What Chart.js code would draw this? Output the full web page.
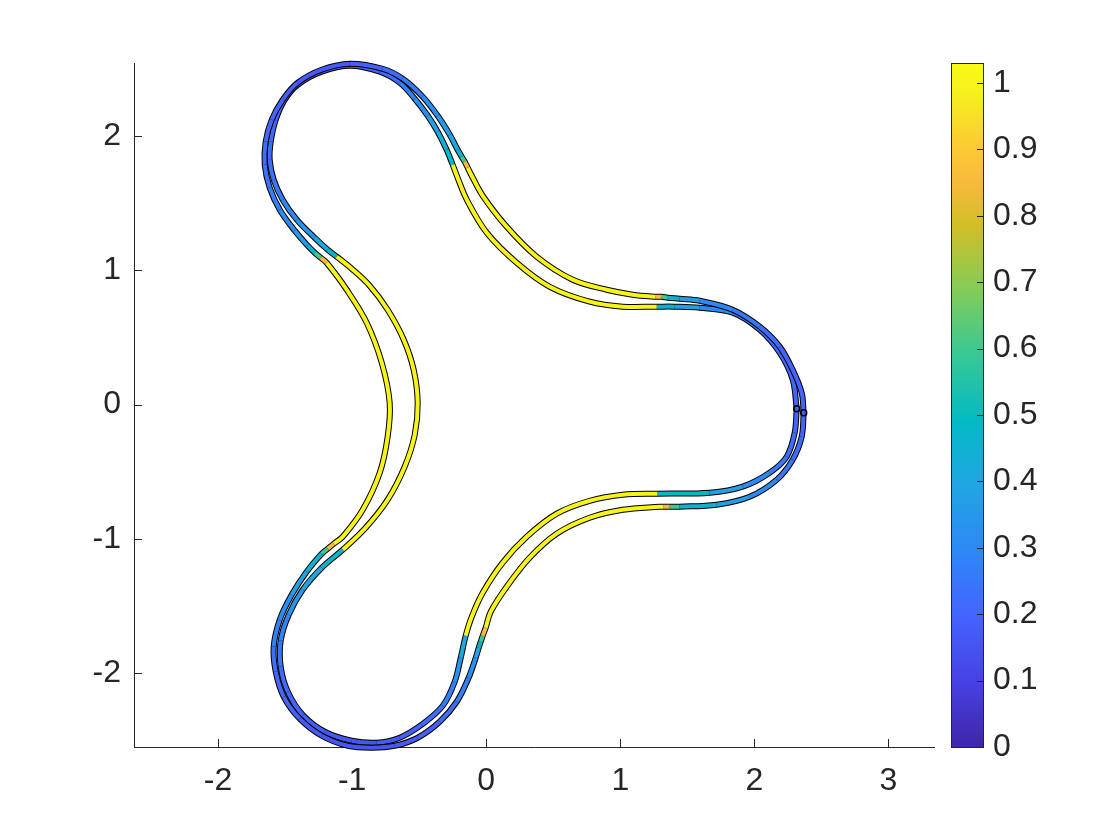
<!DOCTYPE html>
<html>
<head>
<meta charset="utf-8">
<script src="https://cdn.jsdelivr.net/npm/chart.js@4.4.1/dist/chart.umd.min.js"></script>
<style>
  html, body { margin: 0; padding: 0; background: #fff; }
  canvas { display: block; }
</style>
</head>
<body>
<canvas id="c" width="1120" height="840"></canvas>
<script>
// inner ribbon (starts at the marker on the right lobe)
const innerX = [2.316, 2.286, 2.189, 2.040, 1.838, 1.592, 1.406, 1.272, 1.018, 0.772,
  0.474, 0.227, 0.004, -0.145, -0.213, -0.250, -0.295, -0.362, -0.436, -0.533,
  -0.645, -0.794, -1.018, -1.227, -1.406, -1.503, -1.570, -1.607, -1.615, -1.585,
  -1.518, -1.413, -1.279, -1.182, -1.115, -1.003, -0.869, -0.735, -0.615, -0.541,
  -0.511, -0.533, -0.608, -0.735, -0.899, -1.070, -1.227, -1.369, -1.473, -1.533,
  -1.533, -1.480, -1.369, -1.204, -1.003, -0.817, -0.645, -0.481, -0.324, -0.235,
  -0.190, -0.153, -0.108, -0.026, 0.123, 0.302, 0.526, 0.772, 1.018, 1.279,
  1.667, 1.913, 2.114, 2.241, 2.301];
const innerY = [-0.031, 0.185, 0.386, 0.557, 0.684, 0.721, 0.729, 0.729, 0.729, 0.766,
  0.877, 1.056, 1.280, 1.526, 1.689, 1.786, 1.898, 2.032, 2.151, 2.278,
  2.397, 2.479, 2.524, 2.479, 2.382, 2.270, 2.121, 1.958, 1.823, 1.674,
  1.526, 1.377, 1.242, 1.153, 1.101, 1.012, 0.885, 0.706, 0.483, 0.259,
  0.013, -0.225, -0.463, -0.709, -0.918, -1.082, -1.216, -1.380, -1.566, -1.759,
  -1.953, -2.139, -2.311, -2.437, -2.504, -2.519, -2.482, -2.385, -2.244, -2.065,
  -1.886, -1.722, -1.581, -1.402, -1.178, -0.985, -0.813, -0.717, -0.672, -0.664,
  -0.657, -0.612, -0.508, -0.389, -0.210];
const innerV = [0.20, 0.20, 0.22, 0.25, 0.30, 0.37, 0.45, 1, 1, 1,
  1, 1, 1, 1, 1, 0.48, 0.42, 0.37, 0.32, 0.27,
  0.22, 0.19, 0.17, 0.17, 0.18, 0.20, 0.21, 0.22, 0.23, 0.26,
  0.30, 0.34, 0.40, 0.46, 1, 1, 1, 1, 1, 1,
  1, 1, 1, 1, 1, 0.46, 0.40, 0.34, 0.29, 0.25,
  0.22, 0.20, 0.18, 0.17, 0.16, 0.17, 0.19, 0.22, 0.27, 0.33,
  0.42, 1, 1, 1, 1, 1, 1, 1, 1, 0.48,
  0.38, 0.30, 0.25, 0.22, 0.20];

// outer ribbon
const outerX = [2.368, 2.353, 2.286, 2.189, 2.040, 1.838, 1.592, 1.443, 1.354, 1.309,
  1.264, 1.093, 0.899, 0.645, 0.377, 0.153, -0.026, -0.108, -0.138, -0.160,
  -0.183, -0.213, -0.272, -0.362, -0.474, -0.623, -0.772, -1.018, -1.227, -1.406,
  -1.518, -1.600, -1.645, -1.652, -1.615, -1.540, -1.428, -1.331, -1.279, -1.234,
  -1.190, -1.040, -0.891, -0.779, -0.720, -0.735, -0.794, -0.921, -1.070, -1.137,
  -1.182, -1.227, -1.339, -1.451, -1.540, -1.585, -1.570, -1.510, -1.391, -1.227,
  -1.033, -0.854, -0.682, -0.511, -0.347, -0.220, -0.131, -0.078, -0.056, -0.041,
  -0.026, -0.004, 0.034, 0.153, 0.324, 0.526, 0.772, 1.018, 1.294, 1.324,
  1.369, 1.443, 1.719, 1.965, 2.167, 2.286, 2.353];
const outerY = [-0.061, 0.088, 0.259, 0.431, 0.580, 0.706, 0.773, 0.788, 0.796, 0.803,
  0.803, 0.818, 0.855, 0.930, 1.101, 1.324, 1.555, 1.704, 1.764, 1.809,
  1.846, 1.898, 2.010, 2.151, 2.293, 2.427, 2.501, 2.539, 2.494, 2.397,
  2.270, 2.121, 1.958, 1.786, 1.615, 1.451, 1.295, 1.183, 1.131, 1.093,
  1.056, 0.855, 0.609, 0.311, 0.013, -0.240, -0.508, -0.784, -0.985, -1.037,
  -1.074, -1.111, -1.245, -1.417, -1.603, -1.804, -1.990, -2.177, -2.340, -2.467,
  -2.542, -2.556, -2.542, -2.482, -2.363, -2.214, -2.035, -1.886, -1.812, -1.767,
  -1.722, -1.663, -1.543, -1.357, -1.141, -0.962, -0.843, -0.784, -0.761, -0.761,
  -0.761, -0.761, -0.746, -0.687, -0.560, -0.411, -0.240];
const outerV = [0.20, 0.20, 0.20, 0.22, 0.25, 0.30, 0.37, 0.45, 0.60, 0.85,
  1, 1, 1, 1, 1, 1, 1, 1, 0.85, 0.60,
  0.45, 0.40, 0.36, 0.31, 0.26, 0.22, 0.19, 0.17, 0.17, 0.18,
  0.20, 0.21, 0.22, 0.24, 0.27, 0.31, 0.36, 0.45, 0.60, 0.85,
  1, 1, 1, 1, 1, 1, 1, 1, 1, 0.85,
  0.60, 0.45, 0.38, 0.32, 0.27, 0.23, 0.21, 0.19, 0.17, 0.16,
  0.16, 0.16, 0.17, 0.19, 0.23, 0.27, 0.32, 0.38, 0.45, 0.60,
  0.85, 1, 1, 1, 1, 1, 1, 1, 1, 0.85,
  0.60, 0.45, 0.37, 0.30, 0.25, 0.22, 0.20];

const xRange = [-2.627, 3.340];
const yRange = [-2.551, 2.544];
const cRange = [0, 1.03];

// parula colormap stops
const parula = [[62,38,168],[71,65,229],[69,99,253],[46,135,247],[32,165,227],[2,186,195],
  [55,200,151],[129,204,89],[209,191,39],[248,186,61],[252,207,48],[246,239,32],[249,251,21]];
const parulaPos = [0, 6/63, 12/63, 18/63, 24/63, 30/63, 36/63, 42/63, 48/63, 52/63, 56/63, 60/63, 1];

const ink = '#262626';
const fontFamily = "'Liberation Sans', Arial, Helvetica, sans-serif";

function cmap(v) {
  let t = (v - cRange[0]) / (cRange[1] - cRange[0]);
  t = Math.max(0, Math.min(1, t));
  let i = 0;
  while (i < parulaPos.length - 2 && t > parulaPos[i + 1]) i++;
  const f = (t - parulaPos[i]) / (parulaPos[i + 1] - parulaPos[i]);
  const a = parula[i], b = parula[i + 1];
  const c = a.map((ch, k) => Math.round(ch + (b[k] - ch) * f));
  return 'rgb(' + c.join(',') + ')';
}

function loop(xs, ys) {
  const p = xs.map((x, i) => ({x: x, y: ys[i]}));
  p.push({x: xs[0], y: ys[0]});
  return p;
}

const innerPts = loop(innerX, innerY);
const outerPts = loop(outerX, outerY);

const lineBase = {showLine: true, pointRadius: 0, tension: 0.35, clip: false, fill: false,
  borderJoinStyle: 'round'};

// no extra label padding around the plot box
const noPad = s => { s.paddingTop = 0; s.paddingBottom = 0; s.paddingLeft = 0; s.paddingRight = 0; };

const decor = {
  id: 'decor',
  beforeDatasetsDraw(chart) {
    const {ctx, chartArea: a, scales} = chart;
    ctx.save();
    ctx.strokeStyle = ink;
    ctx.lineWidth = 1;
    scales.x.ticks.forEach(t => {
      const p = Math.round(scales.x.getPixelForValue(t.value)) + 0.5;
      ctx.beginPath(); ctx.moveTo(p, a.bottom); ctx.lineTo(p, a.bottom - 8); ctx.stroke();
    });
    scales.y.ticks.forEach(t => {
      const p = Math.round(scales.y.getPixelForValue(t.value)) + 0.5;
      ctx.beginPath(); ctx.moveTo(a.left, p); ctx.lineTo(a.left + 8, p); ctx.stroke();
    });
    ctx.restore();
  },
  afterDraw(chart) {
    const {ctx, chartArea: a, scales} = chart;
    const cb = scales.cb;
    const top = Math.round(cb.getPixelForValue(cRange[1]));
    const bot = Math.round(cb.getPixelForValue(cRange[0]));
    const left = a.right + 17, w = 32;
    ctx.save();
    const g = ctx.createLinearGradient(0, bot, 0, top);
    parulaPos.forEach((p, i) => g.addColorStop(p, 'rgb(' + parula[i].join(',') + ')'));
    ctx.fillStyle = g;
    ctx.fillRect(left, top, w, bot - top);
    ctx.strokeStyle = ink;
    ctx.lineWidth = 1;
    ctx.strokeRect(left + 0.5, top + 0.5, w, bot - top);
    cb.ticks.forEach(t => {
      const p = Math.round(cb.getPixelForValue(t.value)) + 0.5;
      ctx.beginPath(); ctx.moveTo(left + w, p); ctx.lineTo(left + w - 6, p); ctx.stroke();
    });
    ctx.restore();
  }
};

new Chart(document.getElementById('c'), {
  type: 'scatter',
  data: {
    datasets: [
      Object.assign({}, lineBase, {data: innerPts, borderColor: '#000', borderWidth: 6, order: 4}),
      Object.assign({}, lineBase, {data: innerPts, borderWidth: 4, order: 3,
        borderColor: cmap(innerV[0]),
        segment: {borderColor: ctx => cmap(innerV[ctx.p0DataIndex % innerV.length])}}),
      Object.assign({}, lineBase, {data: outerPts, borderColor: '#000', borderWidth: 6, order: 2}),
      Object.assign({}, lineBase, {data: outerPts, borderWidth: 4, order: 1,
        borderColor: cmap(outerV[0]),
        segment: {borderColor: ctx => cmap(outerV[ctx.p0DataIndex % outerV.length])}}),
      {data: [{x: innerX[0], y: innerY[0]}, {x: outerX[0], y: outerY[0]}], showLine: false,
        pointRadius: 3, pointBorderColor: '#000', pointBackgroundColor: 'rgba(0,0,0,0)',
        pointBorderWidth: 1.5, clip: false, order: 0}
    ]
  },
  options: {
    responsive: false,
    animation: false,
    events: [],
    devicePixelRatio: 1,
    layout: {padding: {top: 63, left: 0, right: 0, bottom: 0}},
    plugins: {legend: {display: false}, tooltip: {enabled: false}},
    scales: {
      x: {
        type: 'linear', position: 'bottom', min: xRange[0], max: xRange[1],
        afterFit: s => { s.height = 93; noPad(s); },
        grid: {display: true, drawOnChartArea: false, drawTicks: false},
        border: {display: true, color: ink, width: 1},
        ticks: {stepSize: 1, includeBounds: false, padding: 15, color: ink,
          font: {family: fontFamily, size: 32}}
      },
      y: {
        type: 'linear', position: 'left', min: yRange[0], max: yRange[1],
        afterFit: s => { s.width = 134; noPad(s); },
        grid: {display: true, drawOnChartArea: false, drawTicks: false},
        border: {display: true, color: ink, width: 1},
        ticks: {stepSize: 1, includeBounds: false, padding: 13, color: ink,
          font: {family: fontFamily, size: 32}}
      },
      cb: {
        type: 'linear', position: 'right', min: cRange[0], max: cRange[1],
        afterFit: s => { s.width = 186; noPad(s); },
        grid: {display: false, drawTicks: false},
        border: {display: false},
        ticks: {stepSize: 0.1, includeBounds: false, padding: 59, color: ink,
          font: {family: fontFamily, size: 32},
          callback: v => String(Math.round(v * 10) / 10)}
      }
    }
  },
  plugins: [decor]
});
</script>
</body>
</html>
